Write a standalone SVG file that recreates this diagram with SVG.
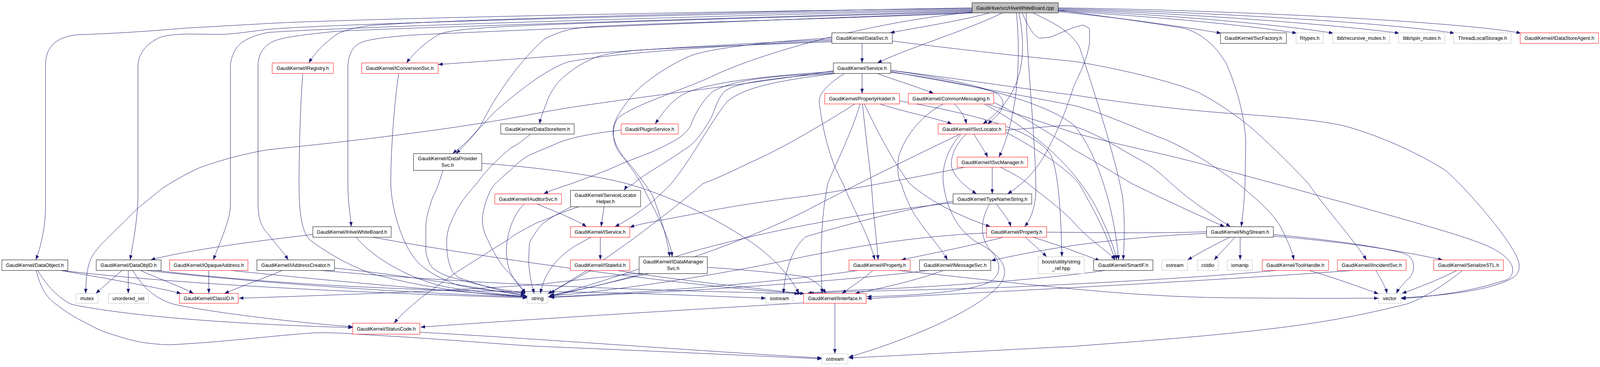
<svg xmlns="http://www.w3.org/2000/svg" width="4291" height="939" viewBox="0 0 4291 939">
<defs>
<marker id="a" markerUnits="userSpaceOnUse" markerWidth="12" markerHeight="9" refX="12" refY="4.5" orient="auto"><path d="M0,0 L12,4.5 L0,9 z" fill="#191970"/></marker>
<style>
.e path{fill:none;stroke:#191970;stroke-width:1;marker-end:url(#a)}
rect{fill:#fff;stroke-width:1}
.n rect{stroke:#000}
.r rect{stroke:#f00}
.g rect{stroke:#bfbfbf}
#n_root rect{fill:#bfbfbf}
text{font-family:"Liberation Sans",Arial,sans-serif;font-size:13.3px;text-anchor:middle;fill:#000}
</style>
</defs>
<rect x="0" y="0" width="4291" height="939" fill="#fff" stroke="none"/>
<g id="diagram" transform="scale(0.95455,1)">
<g id="edges" class="e">
<path d="M2654,33 C2570,55 2450,72 2387,84"/>
<path d="M2688,33 C2600,75 2430,125 2353,161"/>
<path d="M2733,33 C2752,130 2752,240 2636,317"/>
<path d="M2726,33 C2740,170 2725,310 2679,402"/>
<path d="M2741,33 C2755,60 2765,85 2787,98 L2817,95 L2880,70 L2905,64 L2922,73 L2922,110 C2915,150 2905,170 2880,220 C2860,280 2840,330 2800,400 C2775,440 2745,470 2702,496"/>
<path d="M2752,33 C2754,150 2776,350 2778,470 C2780,520 2768,555 2748,580"/>
<path d="M2838,26 C2950,40 3100,60 3178,73 C3220,85 3260,115 3289,163 C3315,220 3340,300 3341,367 L3339,470 C3337,520 3332,555 3329,580"/>
<path d="M2770,33 C2830,60 2870,80 2895,120 C2940,250 2990,400 3010,500 C3018,560 3015,630 3012,665"/>
<path d="M2838,30 C3000,45 3150,65 3275,85"/>
<path d="M2838,28 C3100,42 3350,65 3478,85"/>
<path d="M2838,26 C3150,38 3450,65 3576,85"/>
<path d="M2838,24 C3200,34 3600,65 3753,85"/>
<path d="M2838,22 C3300,32 3750,62 3901,85"/>
<path d="M2838,20 C3400,28 3950,60 4079,85"/>
<path d="M2607,22 C1800,30 900,50 720,60 L496,72 C400,80 300,86 206,89 C150,95 122,120 122,167 L122,530 C122,580 110,630 96,665"/>
<path d="M2607,24 C1900,35 900,60 720,75 C660,82 620,88 588,88 L505,87 C460,88 432,92 420,100 C390,115 370,140 370,170 L370,500 C370,560 355,630 349,665"/>
<path d="M2607,26 C1900,40 900,70 720,83 C680,90 640,105 628,133 C620,150 618,160 618,170 L618,526 C618,560 590,620 572,665"/>
<path d="M2607,28 C2000,45 1100,70 904,80 C820,88 760,95 735,105 C705,118 692,140 692,170 L692,516 C692,560 700,580 720,600 C740,625 760,645 773,665"/>
<path d="M2607,20 C2000,30 1200,50 995,65 C940,72 910,82 900,90 C870,110 845,135 828,161"/>
<path d="M2607,30 C2100,45 1400,60 1250,75 C1200,80 1180,85 1170,92 C1140,110 1110,135 1090,161"/>
<path d="M2607,32 C2100,50 1300,80 1100,90 C1040,95 980,100 960,113 C940,125 933,150 933,173 L933,470 C933,520 940,550 942,580"/>
<path d="M2607,33 C2200,50 1700,60 1578,69 C1530,73 1500,80 1460,100 C1400,150 1330,240 1290,320 C1260,360 1230,380 1214,393"/>
<path d="M2607,31 C2300,60 2000,150 1900,200 C1800,240 1700,270 1660,300 C1640,320 1640,360 1660,390 C1700,430 1730,470 1750,500 C1770,550 1790,610 1796,657"/>
<path d="M2312,111 L2312,161"/>
<path d="M2231,101 C1900,115 1600,135 1440,147 L1175,165"/>
<path d="M2231,104 C1900,118 1600,140 1518,160 C1450,185 1370,250 1331,283 C1300,310 1260,360 1223,393"/>
<path d="M2231,97 C2000,110 1870,130 1835,150 C1780,175 1720,215 1690,250 C1660,290 1644,310 1644,340 C1646,380 1690,420 1720,470 C1750,530 1795,600 1803,657"/>
<path d="M2231,107 C2000,115 1750,125 1692,130 C1650,135 1610,140 1590,150 C1550,165 1520,190 1500,207 C1480,230 1470,250 1467,260 C1455,290 1450,300 1447,317"/>
<path d="M2393,105 C2600,130 2800,150 2880,157 C3000,175 3150,210 3215,237 C3280,270 3340,310 3394,360 C3450,410 3490,450 3509,470 C3560,540 3620,600 3665,665"/>
<path d="M2312,188 L2312,239"/>
<path d="M2353,188 C2400,205 2460,222 2504,239"/>
<path d="M2389,180 C2500,195 2620,215 2675,240 C2700,260 2695,285 2648,317"/>
<path d="M2235,186 C2080,195 1980,200 1913,233 C1880,260 1860,300 1853,320 C1840,345 1810,360 1789,370 C1740,395 1700,405 1665,420 C1620,440 1560,460 1532,470 C1500,480 1475,488 1458,496"/>
<path d="M2235,188 C2050,200 1960,215 1940,237 C1920,260 1915,290 1904,307 C1880,345 1860,370 1835,383 C1780,420 1720,450 1699,470 C1685,478 1677,482 1674,487"/>
<path d="M2240,188 C2100,205 2000,220 1950,260 C1900,320 1860,400 1800,470 C1740,530 1690,560 1649,580"/>
<path d="M2235,181 C1900,230 1600,260 1440,290 C1200,335 900,365 720,383 C640,395 560,420 533,430 C500,445 470,460 435,482 C400,510 370,530 344,557 C300,600 260,630 243,663 C232,690 230,720 230,751"/>
<path d="M2235,183 C2050,195 1900,210 1835,240 C1800,258 1780,285 1757,317"/>
<path d="M2265,188 C2220,215 2195,240 2197,262 C2205,320 2220,400 2261,470 C2290,540 2330,600 2346,665"/>
<path d="M2389,185 C2600,210 2800,260 2880,320 C2950,400 2990,550 3000,665"/>
<path d="M2389,180 C2600,205 2800,235 2880,243 C3000,262 3200,285 3330,292 C3450,300 3550,310 3600,321 C3700,345 3820,400 3878,437 C3930,480 4040,600 4067,656 C4080,680 4075,700 4058,710 C4000,745 3850,758 3758,762"/>
<path d="M2389,183 C2600,220 2800,255 2880,270 C2950,285 3050,330 3133,360 C3200,390 3250,420 3321,470 C3370,510 3410,540 3436,583 C3455,620 3465,640 3470,665"/>
<path d="M2560,266 C2578,285 2588,300 2592,317"/>
<path d="M2530,266 C2480,290 2430,340 2410,400 C2405,440 2410,460 2417,470 C2430,510 2445,536 2450,545 C2480,590 2520,630 2541,665"/>
<path d="M2665,262 C2750,300 2830,350 2880,383 C2950,420 3000,450 3036,470 C3100,500 3200,545 3284,580"/>
<path d="M2640,266 C2800,350 2900,450 2950,550 C2975,600 2990,640 2995,665"/>
<path d="M2647,266 C2750,300 2820,320 2880,340 C3000,370 3100,390 3155,403 C3250,425 3340,450 3420,470 C3500,490 3550,505 3600,517 C3800,570 3950,610 3997,633 C4030,648 4050,665 4056,683 C4060,700 4050,712 4040,716 C3950,745 3850,758 3757,764"/>
<path d="M2612,343 C2625,365 2640,385 2649,402"/>
<path d="M2592,343 C2565,365 2548,400 2552,427 C2560,455 2590,478 2619,496"/>
<path d="M2578,343 C2540,380 2525,430 2530,470 C2540,540 2570,590 2620,620 C2680,650 2705,680 2690,715 C2660,770 2500,850 2276,914"/>
<path d="M2697,338 C2780,380 2860,430 2894,470 C2930,530 2970,600 2990,665"/>
<path d="M2697,333 C2780,328 2850,318 2880,323 C2950,345 3000,380 3073,417 C3110,440 3130,460 3142,470 C3200,520 3260,555 3300,580"/>
<path d="M2575,343 C2450,400 2300,470 2160,540 C1950,640 1650,730 1474,755"/>
<path d="M2661,428 L2661,496"/>
<path d="M2587,428 C2450,455 2250,490 2160,502 C2050,515 1950,530 1900,540 C1800,560 1720,570 1689,582"/>
<path d="M2683,428 C2720,445 2745,460 2757,470 C2810,510 2860,545 2890,580 C2930,620 2975,645 2990,665"/>
<path d="M2672,522 C2690,545 2705,560 2711,580"/>
<path d="M2556,519 C2300,545 2000,600 1800,660 C1650,710 1530,745 1474,758"/>
<path d="M2654,522 C2630,560 2625,610 2660,645 C2685,670 2685,700 2660,718 C2620,745 2450,757 2325,759"/>
<path d="M2556,515 C2400,540 2250,580 2160,606 C2120,640 2105,700 2101,751"/>
<path d="M2690,607 C2600,630 2490,650 2417,665"/>
<path d="M2750,607 C2770,625 2790,640 2807,657"/>
<path d="M2770,607 C2850,630 2900,650 2950,667"/>
<path d="M2341,692 C2315,715 2280,735 2258,751"/>
<path d="M2300,692 C2100,720 1800,745 1474,760"/>
<path d="M2408,692 C2700,720 3000,760 3300,762 C3500,764 3650,763 3697,763"/>
<path d="M2530,692 C2450,720 2350,740 2293,751"/>
<path d="M2490,692 C2200,725 1800,748 1474,761"/>
<path d="M2963,692 C2800,715 2500,735 2300,742 C2230,745 2180,748 2165,751"/>
<path d="M3236,597 C3050,605 2850,625 2658,667"/>
<path d="M3298,607 C3260,625 3220,645 3185,665"/>
<path d="M3312,607 C3295,625 3275,645 3256,665"/>
<path d="M3326,607 L3326,665"/>
<path d="M3415,604 C3550,615 3700,630 3869,665"/>
<path d="M3415,600 C3550,612 3700,630 3770,650 C3800,665 3795,700 3775,715 C3760,730 3750,740 3745,751"/>
<path d="M3236,593 C3000,600 2800,590 2646,596 C2450,605 2300,630 2160,656 C1950,700 1650,745 1474,757"/>
<path d="M3422,692 C3200,712 2900,726 2700,735 C2500,742 2250,745 2170,751"/>
<path d="M3511,692 C3560,705 3650,735 3697,752"/>
<path d="M3690,692 C3700,710 3715,730 3720,751"/>
<path d="M3627,692 C3300,715 2800,740 2325,764"/>
<path d="M3907,692 C3850,720 3790,740 3760,751"/>
<path d="M3922,692 C3860,740 3800,770 3772,778 C3700,795 3650,805 3600,814 C3400,850 3100,870 2880,886 C2600,900 2400,910 2276,916"/>
<path d="M163,692 C300,715 420,735 486,751"/>
<path d="M165,692 C500,730 1000,750 1414,762"/>
<path d="M101,692 C130,740 170,770 193,779 C400,820 800,835 946,838"/>
<path d="M97,692 C110,740 125,760 147,776 C180,800 200,812 230,826 C260,842 280,850 303,856 C340,868 360,872 381,876 C420,881 440,882 459,882 C600,875 700,862 835,852 C900,850 940,854 973,856 C1200,868 1300,878 1440,886 C1800,900 2050,912 2204,918"/>
<path d="M327,692 C300,715 275,735 257,751"/>
<path d="M344,692 L344,751"/>
<path d="M377,692 C430,715 490,735 519,751"/>
<path d="M394,692 C700,725 1100,750 1414,760"/>
<path d="M420,692 C700,725 1100,745 1441,746 C1700,748 1900,758 2054,763"/>
<path d="M356,692 C375,720 400,760 468,779 C600,805 850,830 946,836"/>
<path d="M560,692 L560,751"/>
<path d="M620,692 C900,720 1200,745 1414,759"/>
<path d="M757,692 C700,715 640,735 602,751"/>
<path d="M897,686 C1100,705 1300,740 1414,758"/>
<path d="M862,692 C1300,730 1800,745 2143,751"/>
<path d="M812,189 C806,260 802,380 802,470 C802,520 805,590 830,613 C880,650 940,680 996,700 C1150,740 1300,755 1414,759"/>
<path d="M1069,189 C1058,260 1048,380 1048,470 C1050,540 1080,620 1106,653 C1125,680 1150,700 1225,729 C1300,745 1380,748 1409,751"/>
<path d="M839,600 C700,615 500,640 404,665"/>
<path d="M955,607 C1000,660 1100,715 1200,735 C1300,750 1380,755 1414,760"/>
<path d="M1000,607 C1300,660 1900,740 2158,751"/>
<path d="M1188,436 C1180,460 1170,490 1161,503 C1148,540 1142,560 1142,583 L1142,643 C1145,660 1152,678 1161,686 C1180,700 1200,708 1225,713 C1300,735 1370,745 1409,750"/>
<path d="M1292,418 C1400,425 1550,440 1670,467 C1800,500 1920,560 2000,610 C2080,660 2120,710 2143,751"/>
<path d="M1423,343 C1400,360 1390,370 1372,377 C1330,410 1300,440 1278,470 C1250,500 1235,520 1225,537 C1210,565 1198,590 1198,616 C1198,640 1200,655 1202,663 C1208,690 1215,700 1230,710 C1300,735 1370,750 1409,756"/>
<path d="M1666,333 C1600,340 1530,350 1486,370 C1450,385 1420,395 1409,403 C1390,415 1380,425 1372,433 C1350,450 1335,465 1328,470 C1310,490 1300,520 1294,553 C1292,580 1300,600 1308,613 C1325,650 1345,680 1363,696 C1385,720 1400,735 1409,751"/>
<path d="M1440,522 C1500,545 1550,565 1573,580"/>
<path d="M1406,522 C1385,540 1362,580 1358,636 C1358,670 1365,690 1372,703 C1385,725 1400,740 1409,751"/>
<path d="M1620,529 L1612,580"/>
<path d="M1530,530 C1490,550 1450,570 1440,590 C1425,610 1420,620 1420,623 C1418,650 1418,660 1418,670 C1420,710 1428,735 1433,751"/>
<path d="M1552,529 C1500,545 1470,560 1440,570 C1400,590 1380,600 1363,613 C1300,650 1260,675 1225,696 C1190,720 1160,740 1133,759 C1100,785 1075,805 1057,827"/>
<path d="M1610,607 L1610,665"/>
<path d="M1585,607 C1560,620 1540,630 1532,636 C1510,650 1495,665 1486,676 C1465,700 1455,725 1449,751"/>
<path d="M1584,692 C1540,715 1500,735 1476,751"/>
<path d="M1656,692 C1800,715 2000,735 2150,751"/>
<path d="M1714,699 C1600,710 1500,722 1440,728 C1200,745 900,755 641,763"/>
<path d="M1740,700 C1600,730 1520,750 1469,760"/>
<path d="M1897,684 C2000,690 2100,700 2160,708 C2190,720 2205,735 2215,751"/>
<path d="M2155,775 C1800,795 1450,815 1128,837"/>
<path d="M2239,776 L2239,905"/>
<path d="M1126,850 C1500,870 1900,900 2204,916"/>
<path d="M2360,266 C2420,285 2500,300 2553,317"/>
<path d="M2318,266 C2360,350 2400,420 2440,470 C2500,520 2580,555 2656,580"/>
<path d="M2313,266 C2322,350 2333,430 2337,470 C2343,560 2352,620 2355,665"/>
<path d="M2293,266 C2220,310 2100,380 2009,417 C1950,445 1900,465 1885,470 C1800,540 1650,650 1560,700 C1520,725 1490,740 1469,752"/>
<path d="M2412,258 C2600,290 2780,330 2820,400 C2840,450 2845,550 2848,657"/>
<path d="M2307,266 C2280,350 2240,420 2220,470 C2200,560 2200,680 2205,751"/>
</g>
<g id="n_root"><rect x="2607" y="7" width="231" height="26" style="stroke:#000"/><text x="2722.5" y="24.7">GaudiHive/src/HiveWhiteBoard.cpp</text></g>
<g id="n_DataSvc" class="n"><rect x="2231" y="84" width="162" height="27"/><text x="2312" y="102.2">GaudiKernel/DataSvc.h</text></g>
<g id="n_SvcFactory" class="n"><rect x="3273" y="84" width="177" height="27"/><text x="3361.5" y="102.2">GaudiKernel/SvcFactory.h</text></g>
<g id="n_Rtypes" class="g"><rect x="3476" y="84" width="73" height="27"/><text x="3512.5" y="102.2">Rtypes.h</text></g>
<g id="n_recursive" class="g"><rect x="3574" y="84" width="153" height="27"/><text x="3650.5" y="102.2">tbb/recursive_mutex.h</text></g>
<g id="n_spin" class="g"><rect x="3751" y="84" width="124" height="27"/><text x="3813" y="102.2">tbb/spin_mutex.h</text></g>
<g id="n_TLS" class="g"><rect x="3899" y="84" width="154" height="27"/><text x="3976" y="102.2">ThreadLocalStorage.h</text></g>
<g id="n_IDataStoreAgent" class="r"><rect x="4077" y="84" width="210" height="27"/><text x="4182" y="102.2">GaudiKernel/IDataStoreAgent.h</text></g>
<g id="n_IRegistry" class="r"><rect x="730" y="161" width="164" height="27"/><text x="812" y="179.2">GaudiKernel/IRegistry.h</text></g>
<g id="n_IConversionSvc" class="r"><rect x="970" y="161" width="205" height="27"/><text x="1072.5" y="179.2">GaudiKernel/IConversionSvc.h</text></g>
<g id="n_Service" class="n"><rect x="2235" y="161" width="154" height="27"/><text x="2312" y="179.2">GaudiKernel/Service.h</text></g>
<g id="n_PropertyHolder" class="r"><rect x="2212" y="239" width="200" height="27"/><text x="2312" y="257.2">GaudiKernel/PropertyHolder.h</text></g>
<g id="n_CommonMessaging" class="r"><rect x="2436" y="239" width="229" height="27"/><text x="2550.5" y="257.2">GaudiKernel/CommonMessaging.h</text></g>
<g id="n_DataStoreItem" class="n"><rect x="1343" y="317" width="197" height="26"/><text x="1441.5" y="334.7">GaudiKernel/DataStoreItem.h</text></g>
<g id="n_PluginService" class="r"><rect x="1666" y="317" width="153" height="26"/><text x="1742.5" y="334.7">Gaudi/PluginService.h</text></g>
<g id="n_ISvcLocator" class="r"><rect x="2516" y="317" width="181" height="26"/><text x="2606.5" y="334.7">GaudiKernel/ISvcLocator.h</text></g>
<g id="n_IDataProviderSvc" class="n"><rect x="1109" y="393" width="183" height="43"/><text x="1200.5" y="410.5">GaudiKernel/IDataProvider</text><text x="1200.5" y="427">Svc.h</text></g>
<g id="n_ISvcManager" class="r"><rect x="2567" y="402" width="189" height="26"/><text x="2661.5" y="419.7">GaudiKernel/ISvcManager.h</text></g>
<g id="n_ServiceLocatorHelper" class="n"><rect x="1530" y="487" width="188" height="42"/><text x="1624" y="504">GaudiKernel/ServiceLocator</text><text x="1624" y="520.5">Helper.h</text></g>
<g id="n_IAuditorSvc" class="r"><rect x="1327" y="496" width="179" height="26"/><text x="1416.5" y="513.7">GaudiKernel/IAuditorSvc.h</text></g>
<g id="n_TypeNameString" class="n"><rect x="2556" y="496" width="211" height="26"/><text x="2661.5" y="513.7">GaudiKernel/TypeNameString.h</text></g>
<g id="n_IHiveWhiteBoard" class="n"><rect x="839" y="580" width="210" height="27"/><text x="944" y="598.2">GaudiKernel/IHiveWhiteBoard.h</text></g>
<g id="n_IService" class="r"><rect x="1530" y="580" width="159" height="27"/><text x="1609.5" y="598.2">GaudiKernel/IService.h</text></g>
<g id="n_Property" class="r"><rect x="2646" y="580" width="161" height="27"/><text x="2726.5" y="598.2">GaudiKernel/Property.h</text></g>
<g id="n_MsgStream" class="n"><rect x="3236" y="580" width="179" height="27"/><text x="3325.5" y="598.2">GaudiKernel/MsgStream.h</text></g>
<g id="n_DataObject" class="n"><rect x="5" y="665" width="177" height="27"/><text x="93.5" y="683.2">GaudiKernel/DataObject.h</text></g>
<g id="n_DataObjID" class="n"><rect x="258" y="665" width="174" height="27"/><text x="345" y="683.2">GaudiKernel/DataObjID.h</text></g>
<g id="n_IOpaqueAddress" class="r"><rect x="455" y="665" width="210" height="27"/><text x="560" y="683.2">GaudiKernel/IOpaqueAddress.h</text></g>
<g id="n_IAddressCreator" class="n"><rect x="689" y="665" width="208" height="27"/><text x="793" y="683.2">GaudiKernel/IAddressCreator.h</text></g>
<g id="n_IStateful" class="r"><rect x="1530" y="665" width="159" height="27"/><text x="1609.5" y="683.2">GaudiKernel/IStateful.h</text></g>
<g id="n_IDataManagerSvc" class="n"><rect x="1714" y="657" width="183" height="43"/><text x="1805.5" y="674.5">GaudiKernel/IDataManager</text><text x="1805.5" y="691">Svc.h</text></g>
<g id="n_IProperty" class="r"><rect x="2277" y="665" width="164" height="27"/><text x="2359" y="683.2">GaudiKernel/IProperty.h</text></g>
<g id="n_IMessageSvc" class="n"><rect x="2466" y="665" width="191" height="27"/><text x="2561.5" y="683.2">GaudiKernel/IMessageSvc.h</text></g>
<g id="n_boost" class="g"><rect x="2784" y="657" width="124" height="43"/><text x="2846" y="674.5">boost/utility/string</text><text x="2846" y="691">_ref.hpp</text></g>
<g id="n_SmartIF" class="n"><rect x="2933" y="665" width="159" height="27"/><text x="3012.5" y="683.2">GaudiKernel/SmartIF.h</text></g>
<g id="n_sstream" class="g"><rect x="3116" y="665" width="69" height="27"/><text x="3150.5" y="683.2">sstream</text></g>
<g id="n_cstdio" class="g"><rect x="3211" y="665" width="56" height="27"/><text x="3239" y="683.2">cstdio</text></g>
<g id="n_iomanip" class="g"><rect x="3291" y="665" width="68" height="27"/><text x="3325" y="683.2">iomanip</text></g>
<g id="n_ToolHandle" class="r"><rect x="3385" y="665" width="178" height="27"/><text x="3474" y="683.2">GaudiKernel/ToolHandle.h</text></g>
<g id="n_IIncidentSvc" class="r"><rect x="3587" y="665" width="184" height="27"/><text x="3679" y="683.2">GaudiKernel/IIncidentSvc.h</text></g>
<g id="n_SerializeSTL" class="r"><rect x="3845" y="665" width="187" height="27"/><text x="3938.5" y="683.2">GaudiKernel/SerializeSTL.h</text></g>
<g id="n_mutex" class="g"><rect x="204" y="751" width="59" height="25"/><text x="233.5" y="768.2">mutex</text></g>
<g id="n_unordered_set" class="g"><rect x="291" y="751" width="107" height="25"/><text x="344.5" y="768.2">unordered_set</text></g>
<g id="n_ClassID" class="r"><rect x="481" y="751" width="158" height="25"/><text x="560" y="768.2">GaudiKernel/ClassID.h</text></g>
<g id="n_string" class="g"><rect x="1414" y="751" width="55" height="25"/><text x="1441.5" y="768.2">string</text></g>
<g id="n_iostream" class="g"><rect x="2054" y="751" width="73" height="25"/><text x="2090.5" y="768.2">iostream</text></g>
<g id="n_IInterface" class="r"><rect x="2155" y="751" width="168" height="25"/><text x="2239" y="768.2">GaudiKernel/IInterface.h</text></g>
<g id="n_vector" class="g"><rect x="3697" y="751" width="60" height="25"/><text x="3727" y="768.2">vector</text></g>
<g id="n_StatusCode" class="r"><rect x="946" y="827" width="180" height="28"/><text x="1036" y="845.7">GaudiKernel/StatusCode.h</text></g>
<g id="n_ostream" class="g"><rect x="2204" y="905" width="70" height="26"/><text x="2239" y="922.7">ostream</text></g>
</g>
</svg>
